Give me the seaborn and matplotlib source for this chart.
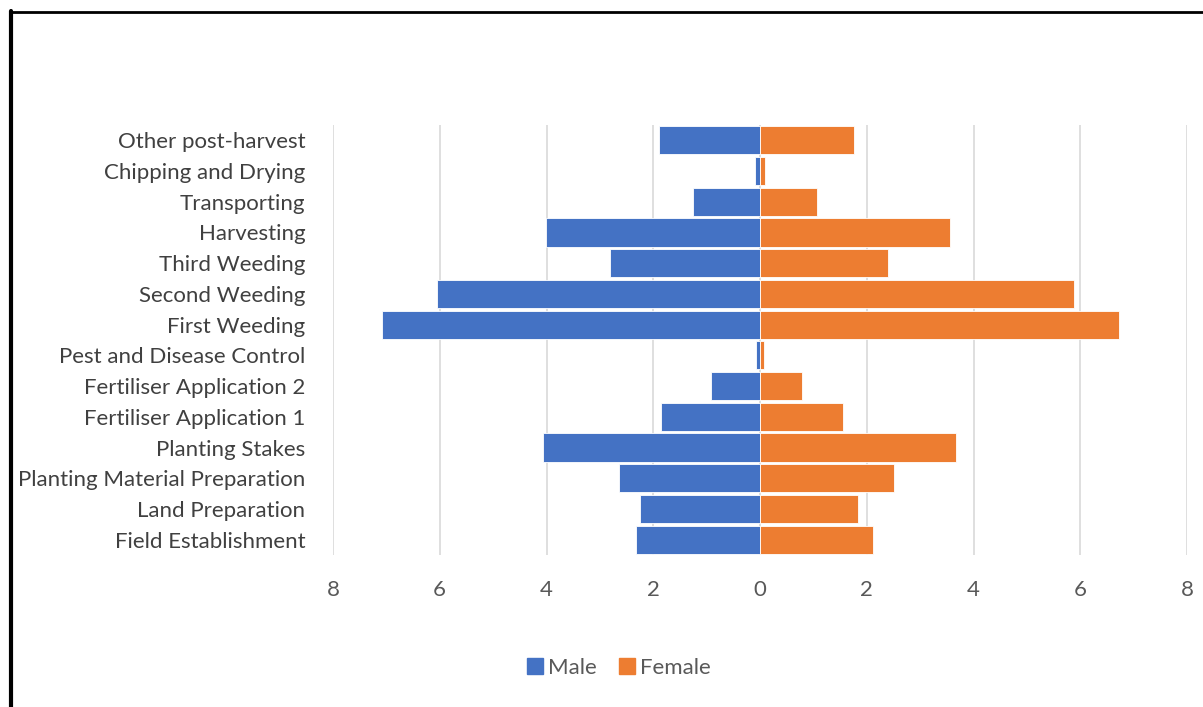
import matplotlib
matplotlib.use("Agg")
import matplotlib.pyplot as plt
from matplotlib.ticker import FuncFormatter, MultipleLocator
from matplotlib.lines import Line2D
import seaborn as sns
import pandas as pd

categories = ["Other post-harvest", "Chipping and Drying", "Transporting", "Harvesting",
              "Third Weeding", "Second Weeding", "First Weeding", "Pest and Disease Control",
              "Fertiliser Application 2", "Fertiliser Application 1", "Planting Stakes",
              "Planting Material Preparation", "Land Preparation", "Field Establishment"]
male = [1.90, 0.10, 1.26, 4.01, 2.81, 6.06, 7.09, 0.08, 0.91, 1.86, 4.06, 2.64, 2.24, 2.32]
female = [1.76, 0.09, 1.07, 3.56, 2.39, 5.88, 6.73, 0.07, 0.79, 1.56, 3.68, 2.51, 1.84, 2.11]
series = ["Male", "Female"]
colors = ["#4472C4", "#ED7D31"]

df = pd.DataFrame({
    "category": categories * 2,
    "value": [-v for v in male] + female,
    "series": ["Male"] * len(male) + ["Female"] * len(female),
})

sns.set_theme(style="white")
plt.rcParams["font.family"] = ["Lato", "DejaVu Sans"]

W, H = 1203, 707
fig = plt.figure(figsize=(W / 100, H / 100), dpi=100)
ax = fig.add_axes([333 / W, 1 - 555 / H, (1187 - 333) / W, (555 - 125) / H])

sns.barplot(data=df, x="value", y="category", hue="series", order=categories,
            hue_order=series, palette=colors, saturation=1, dodge=False, orient="h",
            width=0.92, ax=ax, legend=False, edgecolor="white", linewidth=0.6)

ax.set_xlim(-8, 8)
ax.xaxis.set_major_locator(MultipleLocator(2))
ax.xaxis.set_major_formatter(FuncFormatter(lambda v, p: f"{abs(v):.0f}"))
ax.grid(axis="x", color="#d9d9d9", linewidth=1.2)
ax.set_axisbelow(True)
for s in ax.spines.values():
    s.set_visible(False)
ax.set_xlabel("")
ax.set_ylabel("")
ax.tick_params(axis="y", length=0, pad=20, labelsize=16, labelcolor="#404040")
ax.tick_params(axis="x", length=0, pad=18, labelsize=16, labelcolor="#595959")

handles = [plt.Rectangle((0, 0), 1, 1, color=c) for c in colors]
fig.legend(handles, series, loc="center", bbox_to_anchor=(619 / W, 1 - 668 / H),
           ncol=2, frameon=False, fontsize=16, handlelength=0.7, handleheight=0.7,
           handletextpad=0.25, columnspacing=1.0, labelcolor="#595959")

# outer chart border (left and top visible)
fig.add_artist(Line2D([11 / W, 11 / W], [0, 1 - 11 / H], transform=fig.transFigure,
                      color="black", linewidth=3))
fig.add_artist(Line2D([10 / W, 1], [1 - 12 / H, 1 - 12 / H], transform=fig.transFigure,
                      color="black", linewidth=2))

fig.savefig("out.png", dpi=100, facecolor="white")
